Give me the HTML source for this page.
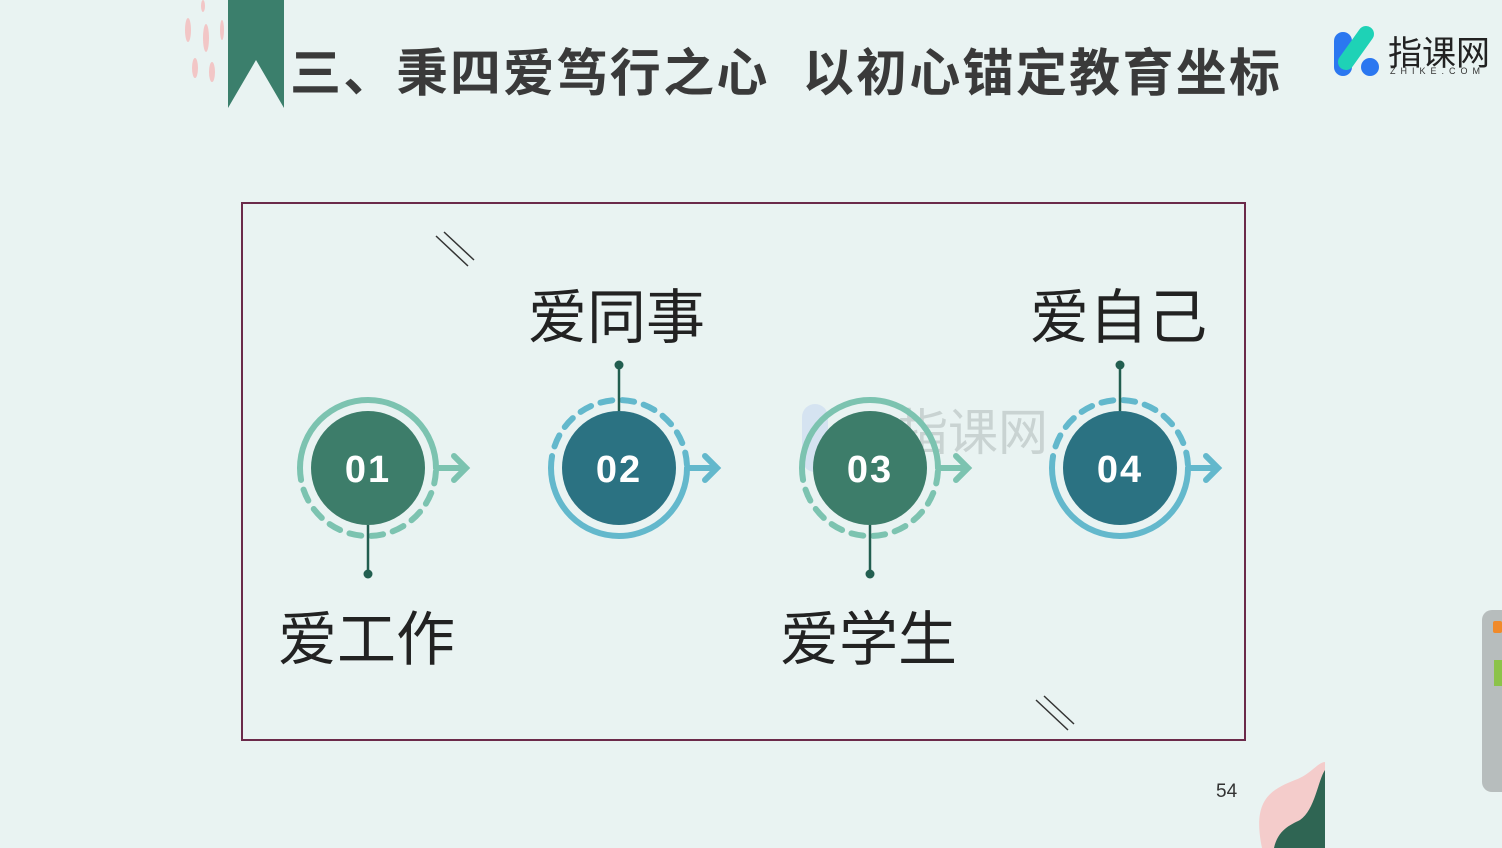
<!DOCTYPE html>
<html><head><meta charset="utf-8"><style>
body{margin:0;width:1502px;height:848px;background:#e9f3f2;overflow:hidden;position:relative;font-family:"Liberation Sans","Noto Sans CJK SC",sans-serif}
.t{position:absolute;font-family:"Liberation Sans","Noto Sans CJK SC",sans-serif;color:#222;white-space:nowrap}
</style></head><body>
<svg width="1502" height="848" style="position:absolute;left:0;top:0">
<g fill="#f2c6c6">
<ellipse cx="188" cy="30" rx="3" ry="12"/><ellipse cx="206" cy="38" rx="3" ry="14"/><ellipse cx="222" cy="30" rx="2" ry="10"/>
<ellipse cx="195" cy="68" rx="3" ry="10"/><ellipse cx="212" cy="72" rx="3" ry="10"/><ellipse cx="203" cy="6" rx="2" ry="6"/>
</g>
<polygon points="228,0 284,0 284,108 256,60 228,108" fill="#3b7f6c"/>
<rect x="242" y="203" width="1003" height="537" fill="none" stroke="#6b2a4a" stroke-width="2"/>
<g stroke="#333" stroke-width="1.5"><line x1="436" y1="236" x2="468" y2="266"/><line x1="444" y1="232" x2="474" y2="260"/>
<line x1="1036" y1="700" x2="1068" y2="730"/><line x1="1044" y1="696" x2="1074" y2="724"/></g>
<rect x="802" y="404" width="26" height="68" rx="13" fill="#c8d8f0" opacity="0.6"/>
<text x="898" y="450" font-size="50" fill="#c9d3d2" font-family="Noto Sans CJK SC">指课网</text>
<g fill="none" stroke-linecap="round">
<path d="M300 468 A68 68 0 0 1 436 468" stroke="#7cc3b0" stroke-width="6"/>
<path d="M300 468 A68 68 0 0 0 436 468" stroke="#7cc3b0" stroke-width="6" stroke-dasharray="12 10"/>
<path d="M436 468 H466 M454 456 L466 468 L454 480" stroke="#7cc3b0" stroke-width="6"/>
<path d="M551 468 A68 68 0 0 1 687 468" stroke="#63b8cc" stroke-width="6" stroke-dasharray="12 10"/>
<path d="M551 468 A68 68 0 0 0 687 468" stroke="#63b8cc" stroke-width="6"/>
<path d="M687 468 H717 M705 456 L717 468 L705 480" stroke="#63b8cc" stroke-width="6"/>
<path d="M802 468 A68 68 0 0 1 938 468" stroke="#7cc3b0" stroke-width="6"/>
<path d="M802 468 A68 68 0 0 0 938 468" stroke="#7cc3b0" stroke-width="6" stroke-dasharray="12 10"/>
<path d="M938 468 H968 M956 456 L968 468 L956 480" stroke="#7cc3b0" stroke-width="6"/>
<path d="M1052 468 A68 68 0 0 1 1188 468" stroke="#63b8cc" stroke-width="6" stroke-dasharray="12 10"/>
<path d="M1052 468 A68 68 0 0 0 1188 468" stroke="#63b8cc" stroke-width="6"/>
<path d="M1188 468 H1218 M1206 456 L1218 468 L1206 480" stroke="#63b8cc" stroke-width="6"/>
</g>
<circle cx="368" cy="468" r="57" fill="#3d7d6a"/>
<circle cx="619" cy="468" r="57" fill="#2b7282"/>
<circle cx="870" cy="468" r="57" fill="#3d7d6a"/>
<circle cx="1120" cy="468" r="57" fill="#2b7282"/>
<g stroke="#225e50" stroke-width="2.5"><line x1="368" y1="525" x2="368" y2="574"/><line x1="619" y1="411" x2="619" y2="365"/>
<line x1="870" y1="525" x2="870" y2="574"/><line x1="1120" y1="411" x2="1120" y2="365"/></g>
<g fill="#225e50"><circle cx="368" cy="574" r="4.5"/><circle cx="619" cy="365" r="4.5"/><circle cx="870" cy="574" r="4.5"/><circle cx="1120" cy="365" r="4.5"/></g>
<g fill="#fff" font-size="38" font-weight="bold" text-anchor="middle" font-family="Liberation Sans" letter-spacing="2"><text x="368" y="482">01</text><text x="619" y="482">02</text><text x="870" y="482">03</text><text x="1120" y="482">04</text></g>
<path d="M1262 848 C1252 800 1270 790 1295 780 C1310 775 1318 762 1325 762 L1325 848 Z" fill="#f4cccb"/>
<path d="M1274 848 C1278 830 1290 825 1300 820 C1315 810 1318 780 1325 770 L1325 848 Z" fill="#2f6553"/>
<rect x="1482" y="610" width="30" height="182" rx="10" fill="#b7bdbd"/>
<rect x="1494" y="660" width="8" height="26" fill="#8cc34a"/>
<rect x="1493" y="621" width="9" height="12" rx="2" fill="#f08a2a"/>
<rect x="1334" y="32" width="18" height="44" rx="9" fill="#2b77f0"/>
<path d="M1346 62 L1366 34" stroke="#1ed2b6" stroke-width="16" stroke-linecap="round"/>
<circle cx="1370" cy="67" r="9" fill="#2b77f0"/>
</svg>
<div class="t" style="left:290px;top:32px;font-size:51px;font-weight:bold;color:#3a3a3a;letter-spacing:2.3px">三、秉四爱笃行之心&nbsp;&nbsp;以初心锚定教育坐标</div>
<div class="t" style="left:1388px;top:26px;font-size:34px;color:#222">指课网</div>
<div class="t" style="left:1390px;top:66px;font-size:9px;letter-spacing:5px;color:#333">ZHIKE.COM</div>
<div class="t" style="left:528px;top:270px;font-size:59px">爱同事</div>
<div class="t" style="left:1030px;top:270px;font-size:59px">爱自己</div>
<div class="t" style="left:278px;top:592px;font-size:59px">爱工作</div>
<div class="t" style="left:780px;top:592px;font-size:59px">爱学生</div>
<div class="t" style="left:1216px;top:781px;font-size:19px;color:#333">54</div>
</body></html>
